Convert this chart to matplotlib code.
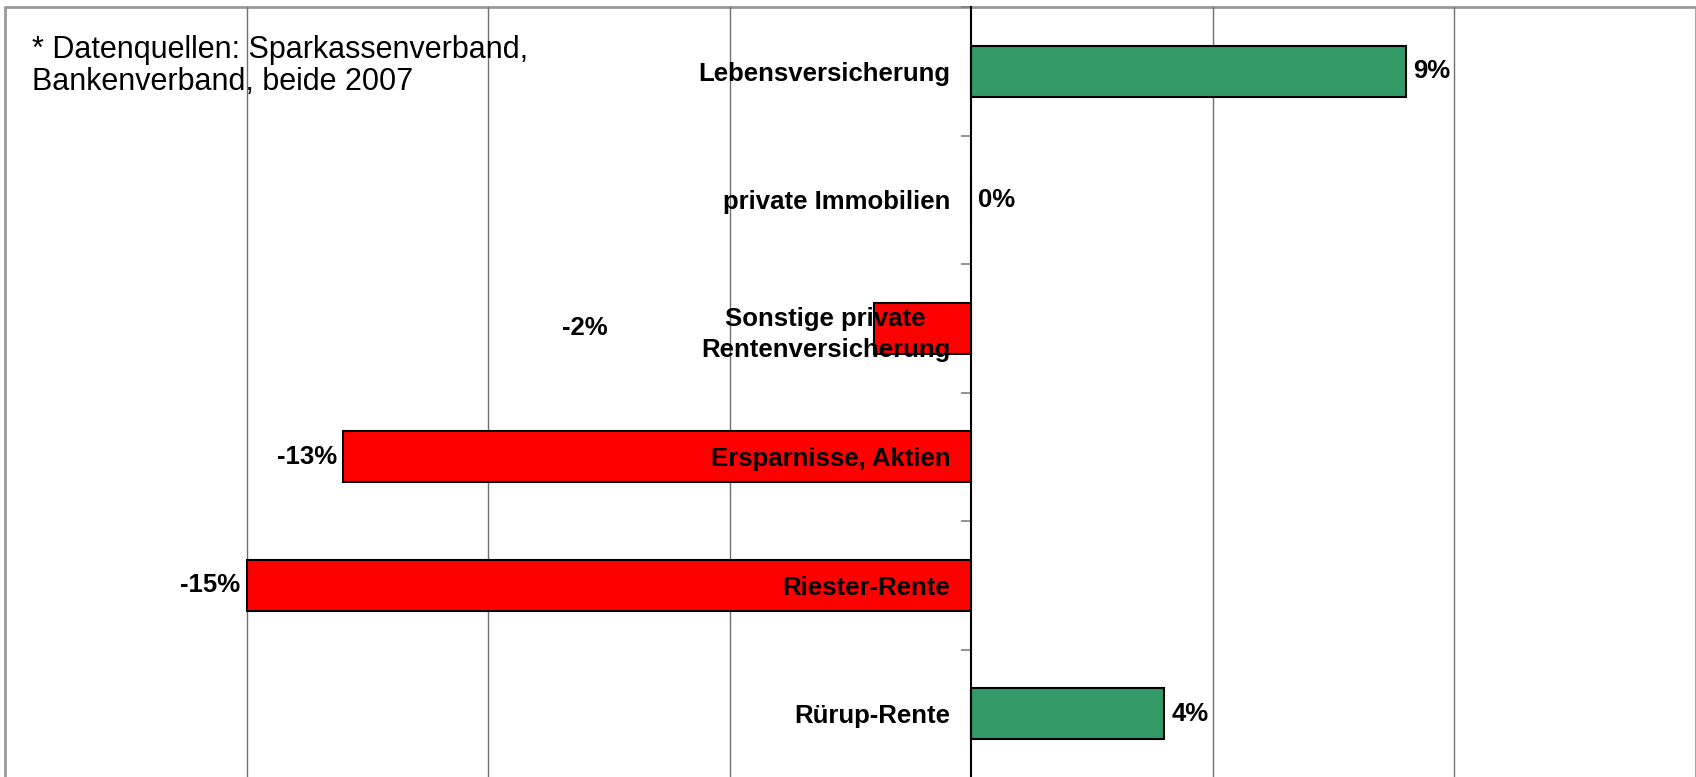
import matplotlib.pyplot as plt
from matplotlib.ticker import FixedLocator

plt.rcParams['font.family'] = ['Liberation Sans', 'DejaVu Sans']

# --- data ---
categories = ["Lebensversicherung", "private Immobilien",
              "Sonstige private\nRentenversicherung", "Ersparnisse, Aktien",
              "Riester-Rente", "Rürup-Rente"]
values = [9, 0, -2, -13, -15, 4]
value_labels = ["9%", "0%", "-2%", "-13%", "-15%", "4%"]
grid_values = [-15, -10, -5, 5, 10]
source_note = "* Datenquellen: Sparkassenverband,\nBankenverband, beide 2007"

GREEN = "#339966"
RED = "#ff0000"
BORDER = "#999999"

W, H = 1696, 777
fig = plt.figure(figsize=(W / 100, H / 100), dpi=100)
ax = fig.add_axes([5 / W, -1 / H, 1690.5 / W, 771 / H])

y = list(range(len(categories)))
colors = [GREEN if v > 0 else RED for v in values]
# zorder 1 keeps the bars under the category labels (axis sits at 1.5)
ax.barh(y, values, height=0.4, color=colors, edgecolor="black",
        linewidth=1.5, zorder=1)

ax.set_xlim(-20, 15)
ax.set_ylim(len(categories) - 0.5, -0.5)

# vertical grid lines behind the bars
for g in grid_values:
    ax.axvline(g, color="#707070", linewidth=1, zorder=0)

# frame: outer border via axes patch, zero line as left spine
ax.patch.set_edgecolor(BORDER)
ax.patch.set_linewidth(2)
for s in ("top", "right", "bottom"):
    ax.spines[s].set_visible(False)
ax.spines["left"].set_position(("data", 0))
ax.spines["left"].set_color("black")
ax.spines["left"].set_linewidth(1.5)
ax.spines["left"].set_zorder(3)

ax.set_xticks([])
ax.set_yticks(y)
ax.set_yticklabels(categories, fontsize=18.5, fontweight="bold")
ax.yaxis.set_minor_locator(FixedLocator([i - 0.5 for i in range(len(categories) + 1)]))
ax.tick_params(axis="y", which="major", length=0, pad=15)
ax.tick_params(axis="y", which="minor", length=7, width=1.2, color="#808080",
               direction="out")
for lbl in ax.get_yticklabels():
    lbl.set_multialignment("center")
    lbl.set_linespacing(1.4)

# value labels
for yi, v, txt in zip(y, values, value_labels):
    if txt == "-2%":
        # this label sits away from its bar, left of the category text
        ax.text(-8, yi, txt, ha="center", va="center", fontsize=18.5,
                fontweight="bold", zorder=4)
    elif v >= 0:
        ax.annotate(txt, (v, yi), xytext=(5, 0), textcoords="offset points",
                    ha="left", va="center", fontsize=18.5, fontweight="bold")
    else:
        ax.annotate(txt, (v, yi), xytext=(-4.5, 0), textcoords="offset points",
                    ha="right", va="center", fontsize=18.5, fontweight="bold")

fig.text(32 / W, 1 - 35 / H, source_note, ha="left", va="top", fontsize=22,
         linespacing=1.1)

fig.savefig("out.png", dpi=100)
